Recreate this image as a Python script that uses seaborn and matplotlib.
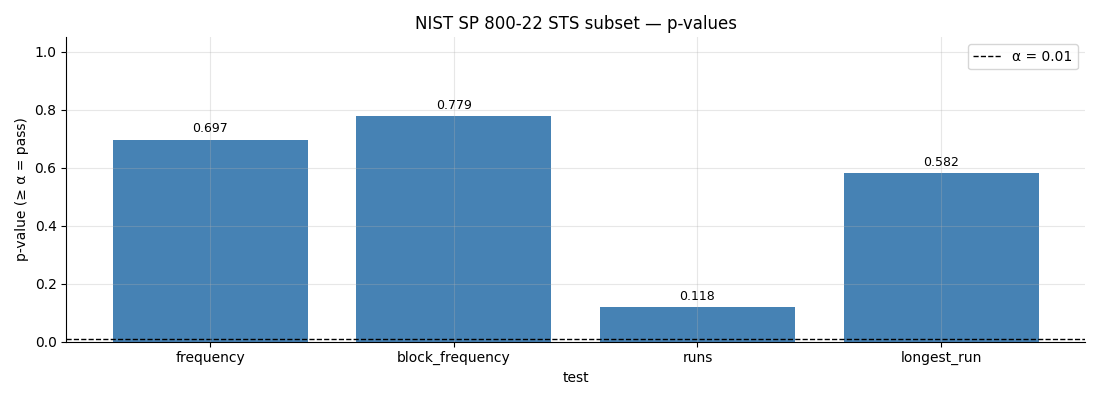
import matplotlib
matplotlib.use("Agg")
import matplotlib.pyplot as plt
import seaborn as sns
import pandas as pd

# p-values per test
tests = ["frequency", "block_frequency", "runs", "longest_run"]
p_values = [0.697, 0.779, 0.118, 0.582]
alpha = 0.01

df = pd.DataFrame({"test": tests, "p": p_values})

fig, ax = plt.subplots(figsize=(11, 4), dpi=100)
sns.barplot(data=df, x="test", y="p", color="steelblue", saturation=1, width=0.8, ax=ax)

for i, v in enumerate(p_values):
    ax.text(i, v + 0.015, f"{v:.3f}", ha="center", va="bottom", fontsize=9)

ax.axhline(alpha, color="black", linestyle="--", linewidth=1, label=f"α = {alpha}")
ax.set_xlim(-0.59, len(tests) - 1 + 0.59)
ax.set_ylim(0, 1.05)
ax.grid(True, alpha=0.3)
ax.set_axisbelow(False)
ax.spines["top"].set_visible(False)
ax.spines["right"].set_visible(False)
ax.set_xlabel("test")
ax.set_ylabel("p-value (≥ α = pass)")
ax.set_title("NIST SP 800-22 STS subset — p-values")
ax.legend(loc="upper right")
plt.tight_layout()
plt.savefig("out.png")
